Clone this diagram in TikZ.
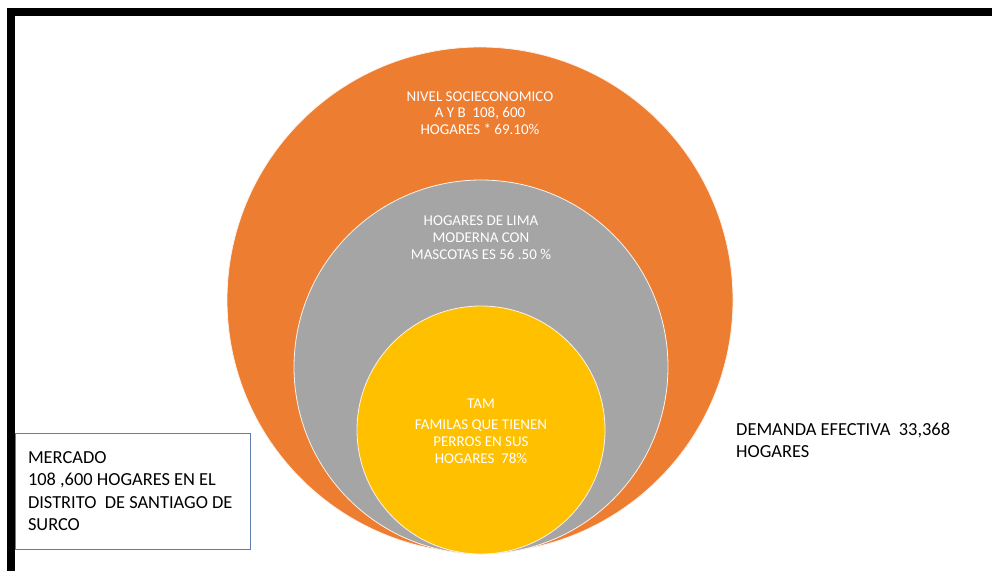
\documentclass[tikz,border=0pt]{standalone}
\usepackage{fontspec}
\setmainfont{Carlito}
\usepackage{xcolor}
\definecolor{mkorange}{HTML}{ED7D31}
\definecolor{mkgray}{HTML}{A5A5A5}
\definecolor{mkyellow}{HTML}{FFC000}
\definecolor{mkblue}{RGB}{95,125,175}

\tikzset{
  ring/.style={circle, inner sep=0pt, draw=white!90!mkorange, line width=0.8pt},
  ringtext/.style={align=center, text=white, font=\fontsize{15}{16.8}\selectfont},
  sidetext/.style={align=left, inner sep=0pt, anchor=north west}
}

\begin{document}
\begin{tikzpicture}[x=1pt,y=-1pt]
        \useasboundingbox (0,0) rectangle (992,571);
        % Frame of the slide
        \fill[black] (7,8) rectangle (992,16);
        \fill[black] (7,8) rectangle (15,571);
        % Nested market circles
        \node[ring, fill=mkorange, minimum size=506pt] (sam) at (480,300) {};
        \node[ring, fill=mkgray, minimum size=374pt] (lima) at (481,367) {};
        \node[ring, fill=mkyellow, minimum size=248pt] (tam) at (481,430) {};
        % Texts inside the circles
        \node[ringtext] (nivel) at (480,113) {NIVEL SOCIECONOMICO\\A Y B\ \ 108, 600\\HOGARES * 69.10\%};
        \node[ringtext] (mascotas) at (481,237.5) {HOGARES DE LIMA\\MODERNA CON\\MASCOTAS ES 56 .50 \%};
        \node[ringtext] (perros) at (481,431) {TAM\\[5pt]FAMILAS QUE TIENEN\\PERROS EN SUS\\HOGARES\ \ 78\%};
        % Market box
        \node[draw=mkblue, line width=0.8pt, minimum width=235pt, minimum height=116pt,
              text width=209pt, align=flush left, inner xsep=13pt,
              font=\fontsize{18.4}{22.5}\selectfont] (mercado) at (132.5,491)
              {MERCADO\\108 ,600 HOGARES EN EL\\DISTRITO\ \ DE SANTIAGO DE\\SURCO};
        % Effective demand
        \node[sidetext, font=\fontsize{18.4}{22}\selectfont] (demanda) at (736,423)
              {DEMANDA EFECTIVA\ \ 33,368\\HOGARES};
\end{tikzpicture}
\end{document}
